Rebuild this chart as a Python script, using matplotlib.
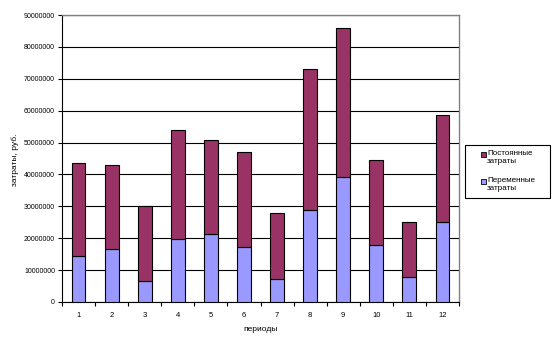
import matplotlib
matplotlib.use("Agg")
import matplotlib.pyplot as plt
import numpy as np
from matplotlib.patches import Rectangle

plt.rcParams['font.family'] = ['Liberation Sans', 'DejaVu Sans']

periods = [str(i) for i in range(1, 13)]
variable = [14.3, 16.7, 6.6, 19.8, 21.4, 17.3, 7.2, 28.9, 39.3, 17.9, 7.9, 25.2]
total = [43.7, 43.1, 30.1, 53.8, 50.9, 46.9, 28.0, 73.0, 85.8, 44.5, 25.2, 58.5]
variable = [v * 1e6 for v in variable]
fixed = [t * 1e6 - v for t, v in zip(total, variable)]
yticks = list(range(0, 90000001, 10000000))
ytick_labels = [str(v) for v in yticks]
legend_labels = ['Постоянные\nзатраты', 'Переменные\nзатраты']

col_fixed = '#993366'
col_var = '#9999FF'

W, H = 555, 343
fig = plt.figure(figsize=(W/100, H/100), dpi=100)
ax = fig.add_axes([62/W, 1-302/H, (459-62)/W, (302-15)/H])

x = np.arange(len(periods))
w = 0.42
ax.bar(x, variable, w, color=col_var, edgecolor='black', linewidth=0.8, zorder=3)
ax.bar(x, fixed, w, bottom=variable, color=col_fixed, edgecolor='black', linewidth=0.8, zorder=3)

ax.set_xlim(-0.5, len(periods) - 0.5)
ax.set_ylim(0, 90000000)
ax.set_yticks(yticks)
ax.set_yticklabels(ytick_labels, fontsize=5)
ax.set_xticks(x)
ax.set_xticklabels(periods, fontsize=5.5)
ax.set_xticks(np.arange(-0.5, len(periods), 1), minor=True)
ax.tick_params(axis='x', which='major', length=0, pad=7)
ax.tick_params(axis='x', which='minor', length=3, width=0.8, direction='out')
ax.tick_params(axis='y', length=3, width=0.8, direction='out', pad=2)

ax.yaxis.grid(True, color='black', linewidth=0.8, zorder=0)
ax.set_axisbelow(True)
for s in ['top', 'right']:
    ax.spines[s].set_color('#808080')
    ax.spines[s].set_linewidth(1.0)
for s in ['left', 'bottom']:
    ax.spines[s].set_color('black')
    ax.spines[s].set_linewidth(0.8)

ax.set_xlabel('периоды', fontsize=6, labelpad=5)
fig.text(15/W, 1-160/H, 'затраты, руб.', rotation=90, fontsize=6, ha='center', va='center')

# legend (drawn manually to mimic the Excel layout)
fig.patches.append(Rectangle((465/W, 1-198/H), 85/W, 53/H, transform=fig.transFigure,
                             facecolor='white', edgecolor='black', linewidth=0.8))
for lab, col, ytop in zip(legend_labels, [col_fixed, col_var], [152, 179]):
    fig.patches.append(Rectangle((481/W, 1-(ytop+5)/H), 5/W, 5/H, transform=fig.transFigure,
                                 facecolor=col, edgecolor='black', linewidth=0.6))
    fig.text(487/W, 1-(ytop-1.5)/H, lab, fontsize=5.8, ha='left', va='top', linespacing=1.15)

fig.savefig('out.png', dpi=100)
